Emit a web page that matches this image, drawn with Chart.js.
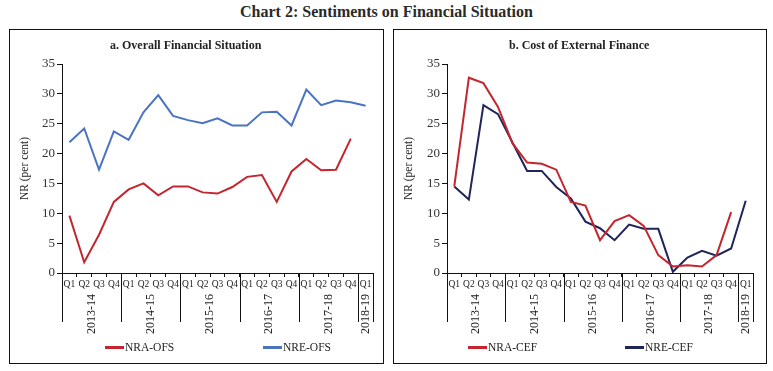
<!DOCTYPE html>
<html>
<head>
<meta charset="utf-8">
<script src="https://cdn.jsdelivr.net/npm/chart.js@4.4.1/dist/chart.umd.min.js"></script>
<style>
  body { margin: 0; background: #fff; width: 773px; height: 371px; position: relative; overflow: hidden;
         font-family: "Liberation Serif", "DejaVu Serif", serif; color: #222; }
  .main-title { position: absolute; left: 0; width: 773px; top: 3px; text-align: center;
                font-weight: bold; font-size: 16px; color: #2a2a2a; }
  .panel { position: absolute; top: 29px; height: 333px; border: 1px solid #111; }
  .panel canvas { position: absolute; left: 0; top: 0; }
  .panel-title { position: absolute; top: 8px; font-weight: bold; font-size: 12px; color: #222; white-space: nowrap; }
  .legend { position: absolute; top: 311px; font-size: 11.5px; color: #222; white-space: nowrap; }
  .legend span.swatch { display: inline-block; width: 19px; height: 3px; vertical-align: middle; margin-right: 1px; position: relative; top: -1px; }
</style>
</head>
<body>
<div class="main-title">Chart 2: Sentiments on Financial Situation</div>

<div class="panel" id="panelA" style="left:9px; width:373px;">
  <canvas id="chartA" width="373" height="333"></canvas>
  <div class="panel-title" style="left:100px;">a. Overall Financial Situation</div>
  <div class="legend" style="left:95px;"><span class="swatch" style="background:#C3262E"></span>NRA-OFS</div>
  <div class="legend" style="left:253px;"><span class="swatch" style="background:#4A74C2"></span>NRE-OFS</div>
</div>

<div class="panel" id="panelB" style="left:393px; width:372px;">
  <canvas id="chartB" width="372" height="333"></canvas>
  <div class="panel-title" style="left:115px;">b. Cost of External Finance</div>
  <div class="legend" style="left:74px;"><span class="swatch" style="background:#C3262E"></span>NRA-CEF</div>
  <div class="legend" style="left:231px;"><span class="swatch" style="background:#1F2459"></span>NRE-CEF</div>
</div>

<script>
// --- Data ---
const quarterLabels = ['Q1','Q2','Q3','Q4','Q1','Q2','Q3','Q4','Q1','Q2','Q3','Q4',
                       'Q1','Q2','Q3','Q4','Q1','Q2','Q3','Q4','Q1'];
const yearLabels = ['2013-14', '2014-15', '2015-16', '2016-17', '2017-18', '2018-19'];
const yearSpans = [4, 4, 4, 4, 4, 1];

const nraOfs = [9.6, 1.8, 6.4, 11.9, 14.0, 15.0, 13.0, 14.5, 14.5, 13.5, 13.3, 14.4,
                16.1, 16.4, 11.9, 17.0, 19.1, 17.2, 17.3, 22.5, null];
const nreOfs = [21.9, 24.2, 17.3, 23.7, 22.3, 26.9, 29.8, 26.3, 25.6, 25.1, 25.9, 24.7,
                24.7, 26.9, 27.0, 24.7, 30.7, 28.1, 28.9, 28.6, 28.0];

const nraCef = [14.5, 32.7, 31.8, 27.8, 21.7, 18.5, 18.3, 17.3, 11.9, 11.3, 5.5, 8.7,
                9.7, 7.9, 3.0, 1.1, 1.3, 1.1, 3.0, 10.2, null];
const nreCef = [14.5, 12.3, 28.1, 26.6, 21.8, 17.1, 17.1, 14.4, 12.5, 8.6, 7.5, 5.5,
                8.1, 7.4, 7.4, 0.2, 2.6, 3.7, 2.9, 4.1, 12.1];

const yTicks = [0, 5, 10, 15, 20, 25, 30, 35];

// --- Colours ---
const RED = '#C3262E';
const BLUE = '#4A74C2';
const NAVY = '#1F2459';
const FONT = '"Liberation Serif", "DejaVu Serif", serif';

// year groups under the quarter labels, with separator lines
const yearAxisPlugin = {
    id: 'yearAxis',
    afterDraw(chart) {
        const xs = chart.scales.x;
        const ctx = chart.ctx;
        const half = (xs.getPixelForValue(1) - xs.getPixelForValue(0)) / 2;
        const top = xs.top;
        ctx.save();
        ctx.strokeStyle = '#111';
        ctx.lineWidth = 1;
        ctx.fillStyle = '#222';
        ctx.font = '12px ' + FONT;
        ctx.textAlign = 'center';
        ctx.textBaseline = 'middle';
        let start = 0;
        yearLabels.forEach((yr, i) => {
            const x0 = xs.getPixelForValue(start) - half;
            const x1 = xs.getPixelForValue(start + yearSpans[i] - 1) + half;
            ctx.beginPath();
            ctx.moveTo(Math.round(x0) + 0.5, top);
            ctx.lineTo(Math.round(x0) + 0.5, top + 49);
            if (i === yearLabels.length - 1) {
                ctx.moveTo(Math.round(x1) + 0.5, top);
                ctx.lineTo(Math.round(x1) + 0.5, top + 49);
            }
            ctx.stroke();
            ctx.save();
            ctx.translate((x0 + x1) / 2, top + 41);
            ctx.rotate(-Math.PI / 2);
            ctx.fillText(yr, 0, 0);
            ctx.restore();
            start += yearSpans[i];
        });
        ctx.restore();
    }
};

function makePanel(canvasId, seriesA, seriesB, nameA, nameB, colorA, colorB, yWidth, rightPad) {
    const ctx = document.getElementById(canvasId);
    return new Chart(ctx, {
        type: 'line',
        data: {
            labels: quarterLabels,
            datasets: [
                { label: nameA, data: seriesA, borderColor: colorA, backgroundColor: colorA, borderWidth: 2, pointRadius: 0, tension: 0, spanGaps: false },
                { label: nameB, data: seriesB, borderColor: colorB, backgroundColor: colorB, borderWidth: 2, pointRadius: 0, tension: 0, spanGaps: false }
            ]
        },
        options: {
            responsive: false,
            animation: false,
            layout: { padding: { top: 34, right: rightPad, bottom: 30, left: 0 } },
            plugins: { legend: { display: false }, tooltip: { enabled: false } },
            scales: {
                x: {
                    offset: true,
                    grid: { offset: true, drawOnChartArea: false, drawTicks: true, tickLength: 4, color: '#111' },
                    border: { display: true, color: '#111', width: 1 },
                    ticks: { autoSkip: false, maxRotation: 0, minRotation: 0, padding: 2, color: '#222', font: { family: FONT, size: 9.5 } },
                    afterFit: (scale) => { scale.height = 60; }
                },
                y: {
                    min: 0, max: 35,
                    afterBuildTicks: (scale) => { scale.ticks = yTicks.map(v => ({ value: v })); },
                    grid: { drawOnChartArea: false, drawTicks: true, tickLength: 5, color: '#111' },
                    border: { display: true, color: '#111', width: 1 },
                    ticks: { padding: 2, color: '#333', font: { family: FONT, size: 13 } },
                    title: { display: true, text: 'NR (per cent)', color: '#222', padding: { top: 8, bottom: 0 }, font: { family: FONT, size: 11.5 } },
                    afterFit: (scale) => { scale.width = yWidth; }
                }
            }
        },
        plugins: [yearAxisPlugin]
    });
}

makePanel('chartA', nraOfs, nreOfs, 'NRA-OFS', 'NRE-OFS', RED, BLUE, 52, 10);
makePanel('chartB', nraCef, nreCef, 'NRA-CEF', 'NRE-CEF', RED, NAVY, 53, 13);
</script>
</body>
</html>
